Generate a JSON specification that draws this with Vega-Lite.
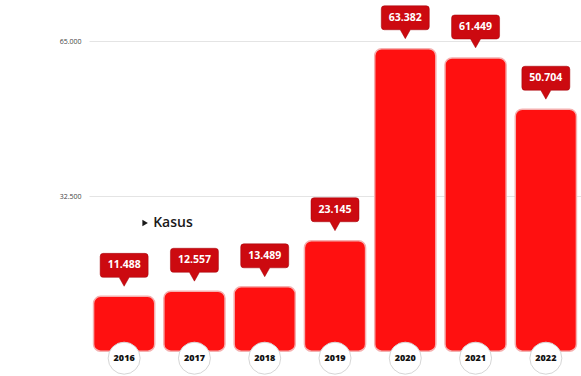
{
  "$schema": "https://vega.github.io/schema/vega-lite/v6.json",
  "width": 492,
  "height": 355,
  "autosize": "none",
  "padding": {"left": 89, "top": 0, "right": 0, "bottom": 21},
  "background": "white",
  "config": {
    "locale": {"number": {"decimal": ",", "thousands": ".", "grouping": [3], "currency": ["Rp", ""]}},
    "view": {"stroke": null},
    "font": "Open Sans"
  },
  "data": {"values": [
    {"year": "2016", "kasus": 11488},
    {"year": "2017", "kasus": 12557},
    {"year": "2018", "kasus": 13489},
    {"year": "2019", "kasus": 23145},
    {"year": "2020", "kasus": 63382},
    {"year": "2021", "kasus": 61449},
    {"year": "2022", "kasus": 50704}
  ]},
  "encoding": {
    "x": {"field": "year", "type": "nominal", "axis": null, "scale": {"paddingInner": 0.13, "paddingOuter": 0.065}}
  },
  "layer": [
    {
      "mark": {"type": "bar", "color": "#ff1010", "cornerRadius": 7, "stroke": "#f5b0b0", "strokeWidth": 1.5},
      "encoding": {
        "y": {"field": "kasus", "type": "quantitative",
          "scale": {"domain": [-800, 73600], "nice": false, "zero": false},
          "axis": {"values": [32500, 65000], "format": ",d", "title": null, "domain": false, "ticks": false,
            "labelFontSize": 7, "labelColor": "#444", "labelPadding": 8, "gridColor": "#e4e4e4", "grid": true}},
        "y2": {"datum": 0}
      }
    },
    {
      "mark": {"type": "point", "filled": true, "opacity": 1, "color": "#cc0a10", "stroke": "#a30008", "strokeWidth": 0.5, "size": 2304, "yOffset": -31,
        "shape": "M-0.87,-0.5 L0.87,-0.5 Q1,-0.5 1,-0.37 L1,0.37 Q1,0.5 0.87,0.5 L0.21,0.5 L0,0.87 L-0.21,0.5 L-0.87,0.5 Q-1,0.5 -1,0.37 L-1,-0.37 Q-1,-0.5 -0.87,-0.5 Z"},
      "encoding": {"y": {"field": "kasus", "type": "quantitative"}}
    },
    {
      "mark": {"type": "text", "color": "white", "fontWeight": "bold", "fontSize": 10.5, "yOffset": -31, "baseline": "middle"},
      "encoding": {
        "y": {"field": "kasus", "type": "quantitative"},
        "text": {"field": "kasus", "type": "quantitative", "format": ",d"}
      }
    },
    {
      "mark": {"type": "point", "shape": "circle", "filled": true, "opacity": 1, "color": "white", "stroke": "#d6d6d6", "strokeWidth": 1, "size": 1024, "yOffset": 7},
      "encoding": {"y": {"datum": 0}}
    },
    {
      "mark": {"type": "text", "color": "#111", "fontWeight": 800, "fontSize": 9, "yOffset": 7, "baseline": "middle"},
      "encoding": {"y": {"datum": 0}, "text": {"field": "year", "type": "nominal"}}
    },
    {
      "data": {"values": [{"label": "Kasus"}]},
      "mark": {"type": "text", "color": "#1a1a1a", "fontWeight": 600, "fontSize": 14, "align": "left", "baseline": "middle", "xOffset": 29},
      "encoding": {"x": {"datum": "2016", "type": "nominal"}, "y": {"datum": 26861}, "text": {"field": "label"}}
    },
    {
      "data": {"values": [{"label": "arrow"}]},
      "mark": {"type": "point", "shape": "triangle-right", "filled": true, "opacity": 1, "color": "#1a1a1a", "size": 40, "xOffset": 21},
      "encoding": {"x": {"datum": "2016", "type": "nominal"}, "y": {"datum": 26861}}
    }
  ]
}
